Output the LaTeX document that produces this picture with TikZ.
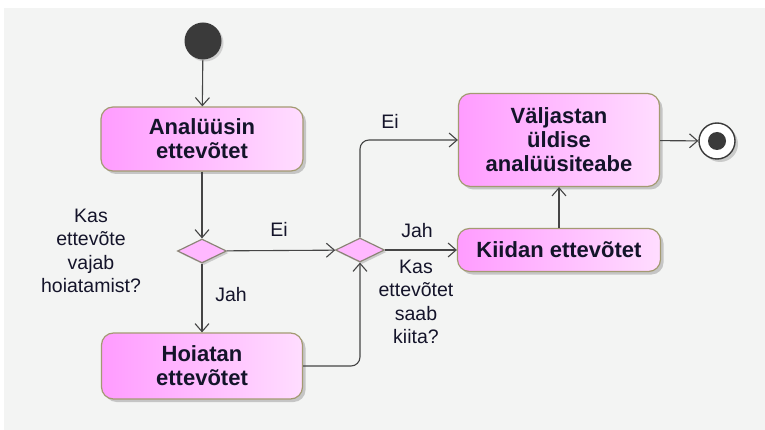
\documentclass[tikz,border=0pt]{standalone}
\usepackage{fontspec}
\setmainfont{Liberation Sans}
\usetikzlibrary{arrows.meta,shapes.geometric,shadows}

\definecolor{bgcol}{HTML}{F3F4F3}
\definecolor{actleft}{HTML}{FF9CFF}
\definecolor{actright}{HTML}{FFDDFF}
\definecolor{actborder}{HTML}{A39A72}
\definecolor{decfill}{HTML}{FFB8FF}
\definecolor{decborder}{HTML}{8C8578}
\definecolor{flow}{HTML}{454545}
\definecolor{dot}{HTML}{3A3A3A}
\definecolor{txt}{HTML}{14142A}

\tikzset{
  action/.style={draw=actborder, line width=1.2pt, rounded corners=12pt,
    left color=actleft, right color=actright, text=txt, align=center,
    font=\bfseries\fontsize{22}{24}\selectfont, inner sep=0pt,
    drop shadow={opacity=0.4, shadow xshift=3pt, shadow yshift=-3pt}},
  decision/.style={diamond, draw=decborder, line width=1.2pt, fill=decfill,
    inner sep=0pt, minimum width=49pt, minimum height=24pt,
    drop shadow={opacity=0.35, shadow xshift=2pt, shadow yshift=-2pt}},
  flowline/.style={draw=flow, line width=1.1pt,
    -{Straight Barb[length=8pt, width=14pt, line width=1.1pt]}},
  guard/.style={text=txt, align=center, font=\fontsize{19.5}{23.5}\selectfont},
}

\begin{document}
\begin{tikzpicture}[x=1pt, y=-1pt]
\useasboundingbox (0,0) rectangle (765,430);
\fill[bgcol] (4,8) rectangle (765,430);

% initial and final states
\node[circle, fill=dot, minimum size=37pt, inner sep=0pt,
  drop shadow={opacity=0.3, shadow xshift=2pt, shadow yshift=-2pt}] (start) at (203,41) {};
\node[circle, draw=dot, line width=1.4pt, fill=white, minimum size=36pt, inner sep=0pt,
  drop shadow={opacity=0.35, shadow xshift=3pt, shadow yshift=-3pt}] (end) at (717,141) {};
\fill[dot] (end.center) circle (9);

% actions
\node[action, minimum width=202pt, minimum height=64pt] (analyse) at (202,139) {Analüüsin\\ettevõtet};
\node[action, minimum width=201pt, minimum height=66pt] (warn) at (202,366) {Hoiatan\\ettevõtet};
\node[action, minimum width=201pt, minimum height=93pt] (publish) at (559,140) {Väljastan\\üldise\\analüüsiteabe};
\node[action, minimum width=203pt, minimum height=43pt] (praise) at (559,250) {Kiidan ettevõtet};

% decisions
\node[decision] (needwarn) at (202,251) {};
\node[decision] (canpraise) at (360,250) {};

% flows
\draw[flowline] (start) -- (analyse);
\draw[flowline] (analyse) -- (needwarn);
\draw[flowline] (needwarn) -- (warn);
\draw[flowline] (needwarn) -- (canpraise);
\draw[flowline, rounded corners=9pt] (warn.east) -| (canpraise.south);
\draw[flowline, rounded corners=9pt] (canpraise.north) |- (publish.west);
\draw[flowline] (canpraise.east) -- (praise.west);
\draw[flowline] (praise) -- (publish);
\draw[flowline] (publish) -- (end);

% guards and questions
\node[guard] (q1) at (91,251) {Kas\\ettevõte\\vajab\\hoiatamist?};
\node[guard] (q2) at (416,302) {Kas\\ettevõtet\\saab\\kiita?};
\node[guard] (no1) at (279,229) {Ei};
\node[guard] (yes1) at (231,295) {Jah};
\node[guard] (no2) at (390,121) {Ei};
\node[guard] (yes2) at (417,231) {Jah};
\end{tikzpicture}
\end{document}
